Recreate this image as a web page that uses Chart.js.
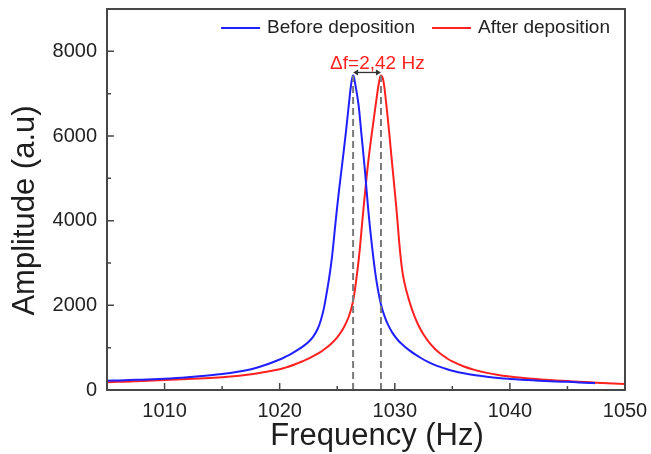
<!DOCTYPE html>
<html><head><meta charset="utf-8">
<script src="https://cdn.jsdelivr.net/npm/chart.js@4.4.0/dist/chart.umd.min.js"></script>
<style>html,body{margin:0;padding:0;background:#fff;overflow:hidden}#wrap{width:651px;height:454px}</style>
</head><body><div id="wrap"><canvas id="c" width="651" height="454"></canvas></div>
<script>
const seriesNames = ['Before deposition', 'After deposition'];
const beforeFreq = [1005,1006,1007,1008,1009,1010,1011,1012,1013,1014,1015,1016,1017,1018,1019,1020,1020.5,1021,1021.5,1022,1022.5,1022.9,1023.3,1023.6,1023.85,1024.05,1024.3,1024.55,1024.85,1025.15,1025.45,1025.75,1026.0,1026.2,1026.38,1026.55,1026.85,1027.1,1027.35,1027.55,1027.75,1028.0,1028.3,1028.55,1028.8,1029.1,1029.4,1029.8,1030.3,1030.8,1031.3,1031.8,1032.3,1032.8,1033.4,1034,1034.5,1035,1036,1037,1038,1039,1040,1041,1042,1043,1044,1045,1046,1047,1047.4];
const beforeAmp = [218,226,235,245,255,267,283,302,323,348,378,415,460,525,615,720,785,855,935,1025,1135,1255,1440,1670,1940,2240,2650,3150,3950,4700,5380,6080,6720,7200,7430,7250,6740,6050,5350,4720,4100,3450,2780,2350,2020,1750,1550,1350,1170,1040,930,835,750,675,600,540,495,455,395,350,315,285,262,243,228,214,203,192,180,168,162];
const afterFreq = [1005,1006,1007,1008,1009,1010,1011,1012,1013,1014,1015,1016,1017,1018,1019,1020,1020.5,1021,1021.5,1022,1022.5,1023,1023.5,1024,1024.5,1025,1025.5,1026,1026.36,1026.7,1026.95,1027.2,1027.45,1027.7,1028.0,1028.25,1028.45,1028.65,1028.8,1029.0,1029.25,1029.5,1029.75,1030.0,1030.2,1030.45,1030.7,1031.0,1031.5,1032,1032.5,1033,1033.5,1034,1034.5,1035,1036,1037,1038,1039,1040,1041,1042,1043,1044,1045,1046,1047,1048,1049,1050];
const afterAmp = [185,192,200,210,222,235,247,259,272,286,302,325,355,392,438,490,528,572,625,680,740,810,890,985,1100,1245,1440,1730,2080,2700,3300,4050,4750,5400,6050,6550,6950,7300,7430,7320,6780,6120,5400,4700,4100,3300,2730,2350,1900,1560,1310,1120,970,850,755,675,555,470,405,355,318,287,263,243,227,211,196,181,167,154,142];
const xTicks = [1010, 1020, 1030, 1040, 1050];
const xMinorTicks = [1015, 1025, 1035, 1045];
const yTicks = [0, 2000, 4000, 6000, 8000];
const yMinorTicks = [1000, 3000, 5000, 7000];
const peakFreqs = [1026.38, 1028.8];
const peakAmps = [7430, 7430];
const deltaLabel = 'Δf=2,42 Hz';
const xTitle = 'Frequency (Hz)';
const yTitle = 'Amplitude (a.u)';

const FONT = "'Liberation Sans', Arial, sans-serif";
const toPts = (xs, ys) => xs.map((x, i) => ({x: x, y: ys[i]}));
const noPad = s => { s.paddingLeft = 0; s.paddingRight = 0; s.paddingTop = 0; s.paddingBottom = 0; };

const decor = {
  id: 'decor',
  afterDatasetsDraw(chart) {
    const ctx = chart.ctx, a = chart.chartArea;
    const xs = chart.scales.x, ys = chart.scales.y;
    ctx.save();
    // frame
    ctx.strokeStyle = '#474747';
    ctx.lineWidth = 2;
    ctx.strokeRect(a.left, a.top, a.right - a.left, a.bottom - a.top);
    // inward ticks
    ctx.lineWidth = 1.5;
    ctx.beginPath();
    xTicks.forEach(v => { const p = xs.getPixelForValue(v); ctx.moveTo(p, a.bottom); ctx.lineTo(p, a.bottom - 7); });
    xMinorTicks.forEach(v => { const p = xs.getPixelForValue(v); ctx.moveTo(p, a.bottom); ctx.lineTo(p, a.bottom - 4); });
    yTicks.forEach(v => { const p = ys.getPixelForValue(v); ctx.moveTo(a.left, p); ctx.lineTo(a.left + 7, p); });
    yMinorTicks.forEach(v => { const p = ys.getPixelForValue(v); ctx.moveTo(a.left, p); ctx.lineTo(a.left + 4, p); });
    ctx.stroke();
    // double arrow between peaks
    const x1 = xs.getPixelForValue(peakFreqs[0]), x2 = xs.getPixelForValue(peakFreqs[1]);
    const py = ys.getPixelForValue(Math.max(peakAmps[0], peakAmps[1])) - 3;
    ctx.strokeStyle = '#333'; ctx.fillStyle = '#333'; ctx.lineWidth = 1.3;
    ctx.beginPath(); ctx.moveTo(x1 + 3, py); ctx.lineTo(x2 - 3, py); ctx.stroke();
    ctx.beginPath(); ctx.moveTo(x1, py); ctx.lineTo(x1 + 5, py - 3); ctx.lineTo(x1 + 5, py + 3); ctx.closePath(); ctx.fill();
    ctx.beginPath(); ctx.moveTo(x2, py); ctx.lineTo(x2 - 5, py - 3); ctx.lineTo(x2 - 5, py + 3); ctx.closePath(); ctx.fill();
    // delta label
    ctx.fillStyle = '#ff2020';
    ctx.font = '19px ' + FONT;
    ctx.textAlign = 'left'; ctx.textBaseline = 'middle';
    ctx.fillText(deltaLabel, x1 - 23, py - 9);
    // legend (inside plot, top right)
    ctx.font = '19px ' + FONT;
    ctx.textBaseline = 'middle';
    const ly = a.top + 19;
    const ds = chart.data.datasets;
    let rx = a.right - 15;
    const items = [];
    for (let i = 1; i >= 0; i--) {
      const tw = ctx.measureText(ds[i].label).width;
      const tx = rx - tw;
      const lx2 = tx - 7, lx1 = lx2 - 39;
      items.push({i, tx, lx1, lx2});
      rx = lx1 - 17;
    }
    items.forEach(it => {
      ctx.strokeStyle = ds[it.i].borderColor; ctx.lineWidth = 2;
      ctx.beginPath(); ctx.moveTo(it.lx1, ly); ctx.lineTo(it.lx2, ly); ctx.stroke();
      ctx.fillStyle = '#222'; ctx.textAlign = 'left';
      ctx.fillText(ds[it.i].label, it.tx, ly);
    });
    // axis titles
    ctx.fillStyle = '#1e1e1e';
    ctx.font = '31px ' + FONT;
    ctx.textAlign = 'center'; ctx.textBaseline = 'alphabetic';
    ctx.fillText(xTitle, (a.left + a.right) / 2 + 11, 445);
    ctx.translate(34, (a.top + a.bottom) / 2 + 11);
    ctx.rotate(-Math.PI / 2);
    ctx.fillText(yTitle, 0, 0);
    ctx.restore();
  }
};

new Chart(document.getElementById('c'), {
  type: 'line',
  data: {
    datasets: [
      {label: seriesNames[0], data: toPts(beforeFreq, beforeAmp), borderColor: '#2020ff', backgroundColor: '#2020ff', borderWidth: 2, pointRadius: 0, tension: 0.4, fill: false, order: 1},
      {label: seriesNames[1], data: toPts(afterFreq, afterAmp), borderColor: '#ff2020', backgroundColor: '#ff2020', borderWidth: 2, pointRadius: 0, tension: 0.4, fill: false, order: 1},
      {label: 'm1', data: [{x: peakFreqs[0], y: 0}, {x: peakFreqs[0], y: peakAmps[0]}], borderColor: '#7a7a7a', borderWidth: 2, borderDash: [7, 4], pointRadius: 0, tension: 0, fill: false, order: 0},
      {label: 'm2', data: [{x: peakFreqs[1], y: 0}, {x: peakFreqs[1], y: peakAmps[1]}], borderColor: '#7a7a7a', borderWidth: 2, borderDash: [7, 4], pointRadius: 0, tension: 0, fill: false, order: 0}
    ]
  },
  options: {
    responsive: false,
    devicePixelRatio: 1,
    animation: false,
    layout: {padding: {left: 0, top: 9, right: 26, bottom: 0}},
    plugins: {
      tooltip: {enabled: false},
      legend: {display: false}
    },
    scales: {
      x: {
        type: 'linear', min: 1005, max: 1050,
        afterFit: s => { s.height = 64; noPad(s); },
        afterBuildTicks: s => { s.ticks = xTicks.map(v => ({value: v})); },
        grid: {display: false, drawTicks: false},
        border: {display: false},
        ticks: {font: {size: 20, family: FONT}, color: '#222', padding: 9, maxRotation: 0, autoSkip: false, callback: v => String(v)}
      },
      y: {
        type: 'linear', min: 0, max: 9000,
        afterFit: s => { s.width = 107; noPad(s); },
        afterBuildTicks: s => { s.ticks = yTicks.map(v => ({value: v})); },
        grid: {display: false, drawTicks: false},
        border: {display: false},
        ticks: {font: {size: 20, family: FONT}, color: '#222', padding: 10, callback: v => String(v)}
      }
    }
  },
  plugins: [decor]
});
</script>
</body></html>
